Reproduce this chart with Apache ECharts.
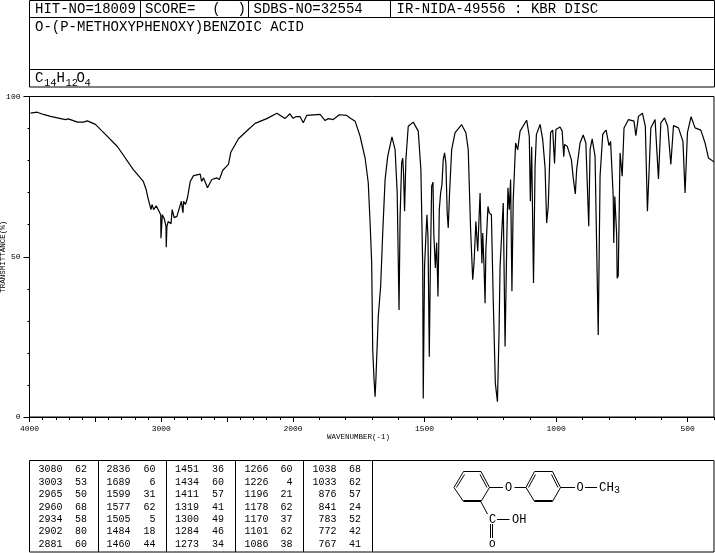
<!DOCTYPE html>
<html><head><meta charset="utf-8">
<style>html,body{margin:0;padding:0;background:#fff}#c{width:715px;height:553px}</style>
<script src="https://cdn.jsdelivr.net/npm/echarts@6/dist/echarts.min.js"></script>
</head><body><div id="c"></div>
<script>
// Spectrum above 2000 cm-1 (compressed scale): [wavenumber, %T]
const spectrumHigh = [[3992,94.8],[3942,95.1],[3894,94.4],[3841,93.8],[3727,92.8],[3705,93.0],[3636,92.0],[3591,92.0],[3561,92.4],[3500,91.3],[3439,88.8],[3333,84.4],[3212,77.2],[3136,73.5],[3114,70.9],[3101,68.4],[3087,67.8],[3078,64.7],[3070,66.3],[3058,64.7],[3045,64.5],[3038,65.9],[3023,65.7],[3004,63.1],[3002,55.8],[2992,63.1],[2977,61.9],[2964,59.5],[2962,53.0],[2957,59.5],[2947,61.0],[2926,60.3],[2917,64.7],[2902,62.2],[2881,62.6],[2848,67.3],[2835,63.7],[2831,67.3],[2816,66.3],[2801,68.4],[2780,73.5],[2755,75.3],[2704,75.8],[2694,73.5],[2679,74.6],[2649,71.5],[2616,74.1],[2578,74.6],[2559,74.1],[2533,77.0],[2490,78.8],[2472,82.6],[2414,86.8],[2339,89.7],[2288,91.6],[2199,93.1],[2122,94.8],[2061,93.1],[2023,94.6],[2000,93.2]];
// Spectrum below 2000 cm-1 (expanded scale): [wavenumber, %T]
const spectrumLow = [[2000,93.2],[1996,92.6],[1989,93.7],[1973,93.7],[1961,91.8],[1948,94.1],[1897,94.4],[1878,92.5],[1866,93.1],[1847,92.8],[1824,94.3],[1796,94.1],[1783,93.3],[1764,92.3],[1758,92.0],[1745,87.6],[1726,80.8],[1714,73.1],[1707,60.6],[1701,48.1],[1697,20.9],[1692,11.6],[1688,6.3],[1685,11.6],[1676,31.3],[1667,40.7],[1659,57.5],[1650,74.1],[1640,81.3],[1624,87.4],[1612,83.4],[1604,70.0],[1597,33.4],[1593,62.6],[1587,79.4],[1583,80.8],[1580,76.3],[1576,64.2],[1571,80.3],[1562,90.7],[1543,92.0],[1524,89.2],[1514,77.2],[1507,47.0],[1505,5.8],[1500,47.0],[1495,56.3],[1491,63.1],[1487,56.3],[1482,18.8],[1478,47.0],[1473,72.0],[1468,73.3],[1465,57.5],[1459,46.5],[1454,54.4],[1449,37.6],[1444,64.7],[1439,69.9],[1434,72.5],[1429,80.3],[1424,82.4],[1419,79.3],[1414,63.7],[1410,59.0],[1405,69.9],[1397,83.4],[1384,88.7],[1359,91.2],[1343,88.7],[1334,83.4],[1325,58.4],[1317,42.8],[1312,48.0],[1305,61.0],[1298,51.7],[1289,69.9],[1286,59.5],[1282,48.0],[1279,57.4],[1274,46.9],[1270,35.5],[1267,52.2],[1259,65.7],[1254,63.7],[1246,63.1],[1239,36.6],[1231,10.5],[1223,4.8],[1217,26.3],[1213,47.0],[1201,66.8],[1194,22.0],[1187,57.5],[1183,71.5],[1178,64.7],[1173,74.1],[1168,39.2],[1163,67.8],[1154,85.5],[1146,83.4],[1137,89.2],[1112,92.6],[1102,87.6],[1098,67.3],[1093,84.3],[1086,41.8],[1080,78.2],[1075,88.1],[1061,91.3],[1051,86.6],[1042,77.8],[1036,60.5],[1030,65.7],[1021,88.7],[1013,89.5],[1006,79.1],[1001,89.7],[985,90.5],[977,89.2],[971,81.2],[968,85.0],[958,84.5],[942,80.3],[935,74.6],[927,69.6],[922,77.2],[909,85.5],[897,88.0],[887,85.5],[876,59.5],[871,83.4],[863,86.8],[852,81.3],[840,25.6],[833,75.1],[823,88.1],[818,88.8],[810,89.5],[799,84.7],[793,86.0],[783,68.8],[781,54.3],[777,68.8],[770,56.9],[768,43.3],[764,44.1],[757,82.4],[749,75.1],[742,90.2],[725,92.8],[704,92.3],[697,87.8],[687,93.8],[672,94.8],[661,90.7],[653,64.2],[640,90.2],[624,92.8],[611,74.3],[602,91.8],[588,93.3],[576,90.7],[564,78.8],[554,90.9],[535,90.2],[518,86.0],[510,69.9],[501,88.7],[487,93.7],[472,90.2],[450,89.5],[434,85.5],[421,80.8],[400,79.6]];
// Peak table
const peakWave = [3080,3003,2965,2960,2934,2902,2881,2836,1689,1599,1577,1505,1484,1460,1451,1434,1411,1319,1300,1284,1273,1266,1226,1196,1178,1170,1101,1086,1038,1033,876,841,783,772,767];
const peakT = [62,53,50,68,58,80,60,60,6,31,62,5,18,44,36,60,57,41,49,46,34,60,4,21,62,37,62,38,68,62,57,24,52,42,41];
// Tick labels
const highAxisMajor = [4000,3000,2000];
const lowAxisMajor = [1500,1000,500];
const lowAxisMinor = [1900,1800,1700,1600,1500,1400,1300,1200,1100,1000,900,800,700,600,500,400];

const MONO = '"Liberation Mono", monospace';
const black = '#000';
function text(x,y,s,size,o){o=o||{};return {type:'text',silent:true,x:x,y:y,rotation:o.rot||0,style:{text:s,fill:black,font:size+'px '+MONO,textAlign:o.align||'left',textVerticalAlign:'middle'}};}
function line(x1,y1,x2,y2,w){return {type:'line',silent:true,shape:{x1:x1,y1:y1,x2:x2,y2:y2},style:{stroke:black,lineWidth:w||1}};}
function rect(x,y,w,h){return {type:'rect',silent:true,shape:{x:x,y:y,width:w,height:h},style:{stroke:black,fill:'none',lineWidth:1}};}

const g = [];
// header table
g.push(rect(29.5,0.5,685,86.5));
g.push(line(29.5,17.5,714.5,17.5), line(29.5,69.5,714.5,69.5));
g.push(line(140.5,0.5,140.5,17.5), line(248.5,0.5,248.5,17.5), line(390.5,0.5,390.5,17.5));
g.push(text(35,9.5,'HIT-NO=18009',14), text(145,9.5,'SCORE=  (  )',14), text(253.5,9.5,'SDBS-NO=32554',14), text(396.5,9.5,'IR-NIDA-49556 : KBR DISC',14));
g.push(text(35,27,'O-(P-METHOXYPHENOXY)BENZOIC ACID',14));
g.push(text(35,78,'C',14), text(44,83,'14',10.5), text(56.5,78,'H',14), text(65.5,83,'12',10.5), text(76.5,78,'O',14), text(84.5,83,'4',10.5));
// plot frame
g.push(rect(29.5,96.5,684.5,320.5));
// axis titles
g.push(text(327,437,'WAVENUMBER(-1)',7.5));
// peak table
g.push(rect(29.5,460.5,684.5,91.5));
[98.5,166.5,235.5,303.5,372.5].forEach(x=>g.push(line(x,460.5,x,552)));
const rowY=[469.5,482,494.5,507,519,531.5,544];
const colW=[62.5,130.5,199,268.5,336.5], colT=[87,155.5,224,292.5,361];
peakWave.forEach((w,i)=>{const c=Math.floor(i/7),r=i%7;
  g.push(text(colW[c],rowY[r],String(w),10,{align:'right'}), text(colT[c],rowY[r],String(peakT[i]),10,{align:'right'}));});
// structure
function hex(x0,x1,x2,x3,yt,ym,yb){
  g.push(line(x1,yt,x2,yt),line(x2,yt,x3,ym),line(x3,ym,x2,yb),line(x2,yb,x1,yb),line(x1,yb,x0,ym),line(x0,ym,x1,yt));
  g.push(line(x1+1,yt+3,x0+2.5,ym),line(x2-1,yt+3,x3-2.5,ym),line(x1,yb-1,x2,yb-1));
}
hex(454,463.5,481,489.5,471.5,487.5,501.5);
hex(526,534.5,552.5,560.5,471.5,487.5,501.5);
g.push(line(489.5,487.5,503,487.5),line(514.5,487.5,526,487.5));
g.push(line(560.5,487.5,575,487.5),line(585,487.5,597,487.5));
g.push(line(481,502,487.5,514));
g.push(line(497,519.5,509.5,519.5));
g.push(line(490.5,524,490.5,538),line(492.5,524,492.5,538));
g.push(text(505,487.5,'O',12),text(576.5,487.5,'O',12),text(599,487.5,'CH',12.5),text(614,490,'3',10));
g.push(text(489,519.5,'C',12),text(512,519.5,'OH',12),text(489,544,'O',11));

const axisLine={show:true,onZero:false,lineStyle:{color:black,width:1}};
const labelStyle={color:black,fontSize:8,fontFamily:MONO};
const option={
  animation:false,
  backgroundColor:'#fff',
  grid:[
    {left:29.5,top:96.5,width:263.5,height:320.5,outerBoundsMode:'none'},
    {left:293,top:96.5,width:421,height:320.5,outerBoundsMode:'none'}
  ],
  xAxis:[
    {gridIndex:0,type:'value',position:'bottom',inverse:true,min:2000,max:4000,interval:500,
      axisLine:axisLine,splitLine:{show:false},
      axisTick:{show:true,length:5,inside:false,lineStyle:{color:black}},
      minorTick:{show:true,splitNumber:5,length:3,lineStyle:{color:black}},
      axisLabel:{margin:8,showMinLabel:true,showMaxLabel:true,...labelStyle,
        formatter:v=>highAxisMajor.includes(v)?String(v):''}},
    {gridIndex:1,type:'value',position:'bottom',inverse:true,min:400,max:2000,interval:100,
      axisLine:axisLine,splitLine:{show:false},
      axisTick:{show:true,length:3,customValues:lowAxisMinor,lineStyle:{color:black}},
      axisLabel:{show:false}},
    {gridIndex:1,type:'value',position:'bottom',inverse:true,min:400,max:2000,interval:100,
      axisLine:{show:false},splitLine:{show:false},
      axisTick:{show:true,length:5,customValues:lowAxisMajor,lineStyle:{color:black}},
      axisLabel:{margin:8,customValues:lowAxisMajor,...labelStyle,formatter:v=>String(v)}}
  ],
  yAxis:[
    {gridIndex:0,type:'value',position:'left',min:0,max:100,interval:50,name:'TRANSMITTANCE(%)',nameLocation:'middle',nameGap:22,nameRotate:90,nameMoveOverlap:false,
      nameTextStyle:{color:black,fontSize:7.5,fontFamily:MONO},
      axisLine:axisLine,splitLine:{show:false},
      axisTick:{show:true,length:6,lineStyle:{color:black}},
      minorTick:{show:true,splitNumber:5,length:2,lineStyle:{color:black}},
      axisLabel:{margin:9,...labelStyle}},
    {gridIndex:1,type:'value',min:0,max:100,show:false,splitLine:{show:false}}
  ],
  series:[
    {type:'line',xAxisIndex:0,yAxisIndex:0,data:spectrumHigh,showSymbol:false,smooth:false,clip:false,lineStyle:{color:black,width:1.2}},
    {type:'line',xAxisIndex:1,yAxisIndex:1,data:spectrumLow,showSymbol:false,smooth:false,clip:false,lineStyle:{color:black,width:1.2}}
  ],
  graphic:{elements:g}
};
const chart=echarts.init(document.getElementById('c'),null,{renderer:'canvas'});
chart.setOption(option);
</script>
</body></html>
